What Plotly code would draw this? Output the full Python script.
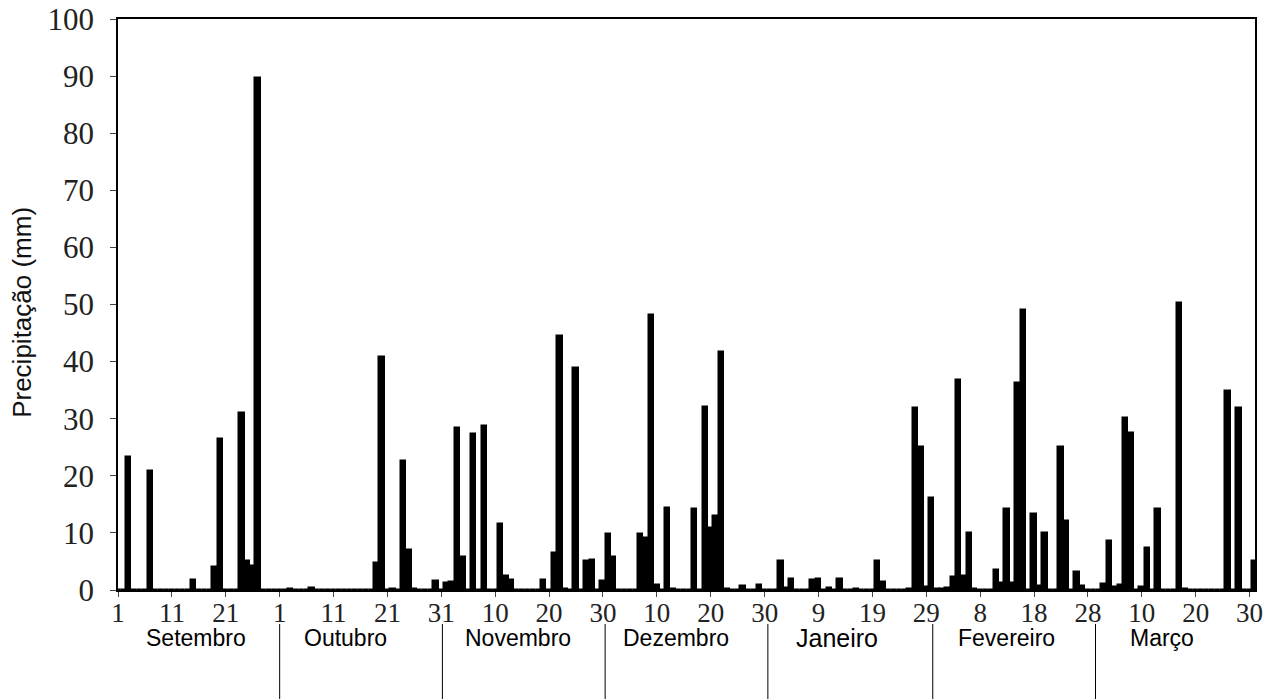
import pandas as pd
import plotly.graph_objects as go

# Daily precipitation (mm), September to March
setembro = [0, 0, 23.3, 0, 0, 0, 20.9, 0, 0, 0,
            0, 0, 0, 0, 1.8, 0, 0, 0, 4.0, 26.4,
            0, 0, 0, 31.0, 5.1, 4.2, 89.6, 0, 0, 0]
outubro = [0, 0, 0.1, 0, 0, 0, 0.3, 0, 0, 0,
           0, 0, 0, 0, 0, 0, 0, 0, 4.8, 40.8,
           0, 0.2, 0, 22.6, 7.0, 0.1, 0, 0, 0, 1.5, 0]
novembro = [1.3, 1.4, 28.3, 5.8, 0, 27.3, 0, 28.7, 0, 0,
            11.6, 2.4, 1.7, 0, 0, 0, 0, 0, 1.8, 0,
            6.5, 44.4, 0.1, 0, 38.9, 0, 5.0, 5.3, 0, 1.5]
dezembro = [9.8, 5.8, 0, 0, 0, 0, 9.8, 9.1, 48.2, 0.8,
            0, 14.4, 0.2, 0, 0, 0, 14.1, 0, 32.0, 10.8,
            12.9, 41.7, 0.1, 0, 0, 0.7, 0, 0, 0.9, 0, 0]
janeiro = [0, 5.0, 0.4, 1.9, 0, 0, 0, 1.7, 2.0, 0,
           0.4, 0, 2.0, 0, 0, 0.2, 0, 0, 0, 5.1,
           1.4, 0, 0, 0, 0, 0.2, 31.9, 25.0, 0.5, 16.2, 0.1]
fevereiro = [0.1, 0.3, 2.2, 36.7, 2.4, 10.0, 0.2, 0, 0, 0,
             3.5, 1.3, 14.1, 1.3, 36.2, 49.0, 0, 13.3, 0.7, 10.0,
             0, 0, 25.0, 12.1, 0, 3.2, 0.7, 0]
marco = [0, 0, 1.0, 8.6, 0.5, 0.9, 30.1, 27.5, 0, 0.5,
         7.3, 0, 14.2, 0, 0, 0, 50.2, 0.1, 0, 0,
         0, 0, 0, 0, 0, 34.9, 0, 31.9, 0, 0, 5.1]

month_names = ["Setembro", "Outubro", "Novembro", "Dezembro", "Janeiro", "Fevereiro", "Março"]

precip = setembro + outubro + novembro + dezembro + janeiro + fevereiro + marco
dates = pd.date_range("2001-09-01", "2002-03-31", freq="D")
assert len(dates) == len(precip)
x = list(range(len(dates)))
tickvals = x[::10]
ticktext = [str(dates[i].day) for i in tickvals]

# layout helpers (positions in day units along the x axis)
label_pos = [14.5, 42.3, 74.2, 103.5, 133.5, 164.9, 193.8]
sep_pos = [30.0, 60.2, 90.4, 120.6, 151.2, 181.4]

fig = go.Figure()
fig.add_trace(go.Bar(
    x=x, y=precip, width=1.0,
    marker=dict(color="black", line=dict(color="black", width=1.5)),
    showlegend=False, hoverinfo="x+y",
))

serif = "Liberation Serif, Times New Roman, serif"
sans = "Liberation Sans, Arial, sans-serif"
fig.update_layout(
    width=1281, height=699,
    margin=dict(l=110, r=34, t=11, b=117),
    paper_bgcolor="white", plot_bgcolor="white",
    bargap=0,
    xaxis=dict(range=[0, 211], tickvals=tickvals, ticktext=ticktext,
               showline=True, linecolor="black", linewidth=1.5, mirror=True,
               ticks="outside", ticklen=5, tickcolor="#444", tickwidth=1,
               showgrid=False, zeroline=False, automargin=False,
               tickfont=dict(family=serif, size=27, color="#222"),
               ticklabelstandoff=-7, ticklabeloverflow="allow"),
    yaxis=dict(range=[0, 100], dtick=10, tick0=0,
               showline=True, linecolor="black", linewidth=1.5, mirror=True,
               ticks="outside", ticklen=6, tickcolor="#444", tickwidth=1,
               showgrid=False, zeroline=False, automargin=False,
               tickfont=dict(family=serif, size=31, color="#222"),
               ticklabelstandoff=10, ticklabeloverflow="allow"),
)

fig.add_annotation(text="Precipitação (mm)", textangle=-90, xref="paper", yref="paper",
                   x=-0.0845, y=0.487, xanchor="center", yanchor="middle", showarrow=False,
                   font=dict(family=sans, size=26, color="#111"))

for name, pos in zip(month_names, label_pos):
    fig.add_annotation(text=name, xref="x", yref="paper", x=pos, y=-0.084,
                       xanchor="center", yanchor="middle", showarrow=False,
                       font=dict(family=sans, size=25 if name == "Janeiro" else 23,
                                 color="black"))

for p in sep_pos:
    fig.add_shape(type="line", xref="x", yref="paper", x0=p, x1=p, y0=-0.0595, y1=-0.215,
                  line=dict(color="black", width=1))

fig.write_html("out.html")
